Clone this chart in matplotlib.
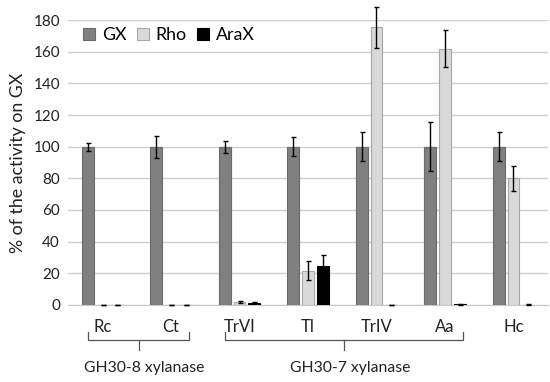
import matplotlib.pyplot as plt
import numpy as np

plt.rcParams['font.family'] = ['Lato', 'DejaVu Sans']

enzymes = ['Rc', 'Ct', 'TrVI', 'Tl', 'TrIV', 'Aa', 'Hc']
series = ['GX', 'Rho', 'AraX']

gx = [100, 100, 100, 100, 100, 100, 100]
gx_err = [2.5, 7, 3.8, 6, 9, 15.5, 9.3]
rho = [0, 0, 2, 21.7, 175.5, 162, 80]
rho_err = [0.3, 0.3, 0.6, 5.8, 13, 11.8, 7.8]
arax = [0, 0, 1.5, 24.8, 0, 0.5, 0.3]
arax_err = [0.3, 0.3, 0.3, 7, 0.3, 0.3, 0.3]

groups = ['GH30-8 xylanase', 'GH30-7 xylanase']
group_spans = [(0, 1), (2, 5)]

fig = plt.figure(figsize=(5.5, 3.82), dpi=100)
ax = fig.add_axes([0.1241, 0.2016, 0.8718, 0.746])

x = np.arange(len(enzymes))
w = 0.175
step = 0.215
colors = ['#808080', '#d9d9d9', '#000000']
edges = ['#6b6b6b', '#a6a6a6', '#000000']
vals = [gx, rho, arax]
errs = [gx_err, rho_err, arax_err]

for i, (v, e) in enumerate(zip(vals, errs)):
    xs = x + (i - 1) * step
    ax.bar(xs, v, width=w, color=colors[i], edgecolor=edges[i],
           linewidth=0.8, label=series[i], zorder=3)
    ax.errorbar(xs, v, yerr=e, fmt='none', ecolor='black', elinewidth=1,
                capsize=1.8, capthick=1, zorder=4, clip_on=False)

ax.set_xlim(-0.5, len(enzymes) - 0.5)
ax.set_ylim(0, 180)
ax.set_yticks(np.arange(0, 181, 20))
ax.yaxis.grid(True, color='#d0d0d0', linewidth=1)
ax.set_axisbelow(True)
for s in ['top', 'right', 'left']:
    ax.spines[s].set_visible(False)
ax.spines['bottom'].set_color('#c8c8c8')
ax.tick_params(axis='y', length=0, labelsize=11, pad=6, labelcolor='#222222')
ax.set_xticks([])
ax.set_ylabel('% of the activity on GX', fontsize=12.8, labelpad=5, color='#222222')

# category labels
for xi, name in zip(x, enzymes):
    ax.text(xi, -0.077, name, transform=ax.get_xaxis_transform(),
            ha='center', va='center', fontsize=12, color='#222222')

# braces and group labels
trans = ax.get_xaxis_transform()
y_top, y_mid, y_bot = -0.095, -0.123, -0.158
for (a, b), label in zip(group_spans, groups):
    x0 = a - 0.21
    x1 = b + 0.27
    xc = (x0 + x1) / 2
    ax.plot([x0, x0, x1, x1], [y_top, y_mid, y_mid, y_top], color='#555555',
            linewidth=0.9, transform=trans, clip_on=False)
    ax.plot([xc, xc], [y_mid, y_bot], color='#555555', linewidth=0.9,
            transform=trans, clip_on=False)
    ax.text(xc + 0.08, -0.221, label, transform=trans, ha='center', va='center',
            fontsize=11.3, color='#222222')

ax.legend(loc='center left', bbox_to_anchor=(0.031, 0.947), ncol=3, frameon=False,
          fontsize=12.8, handlelength=0.65, handleheight=0.65, handletextpad=0.4,
          columnspacing=0.6, borderpad=0, borderaxespad=0)

fig.savefig('out.png', dpi=100)
